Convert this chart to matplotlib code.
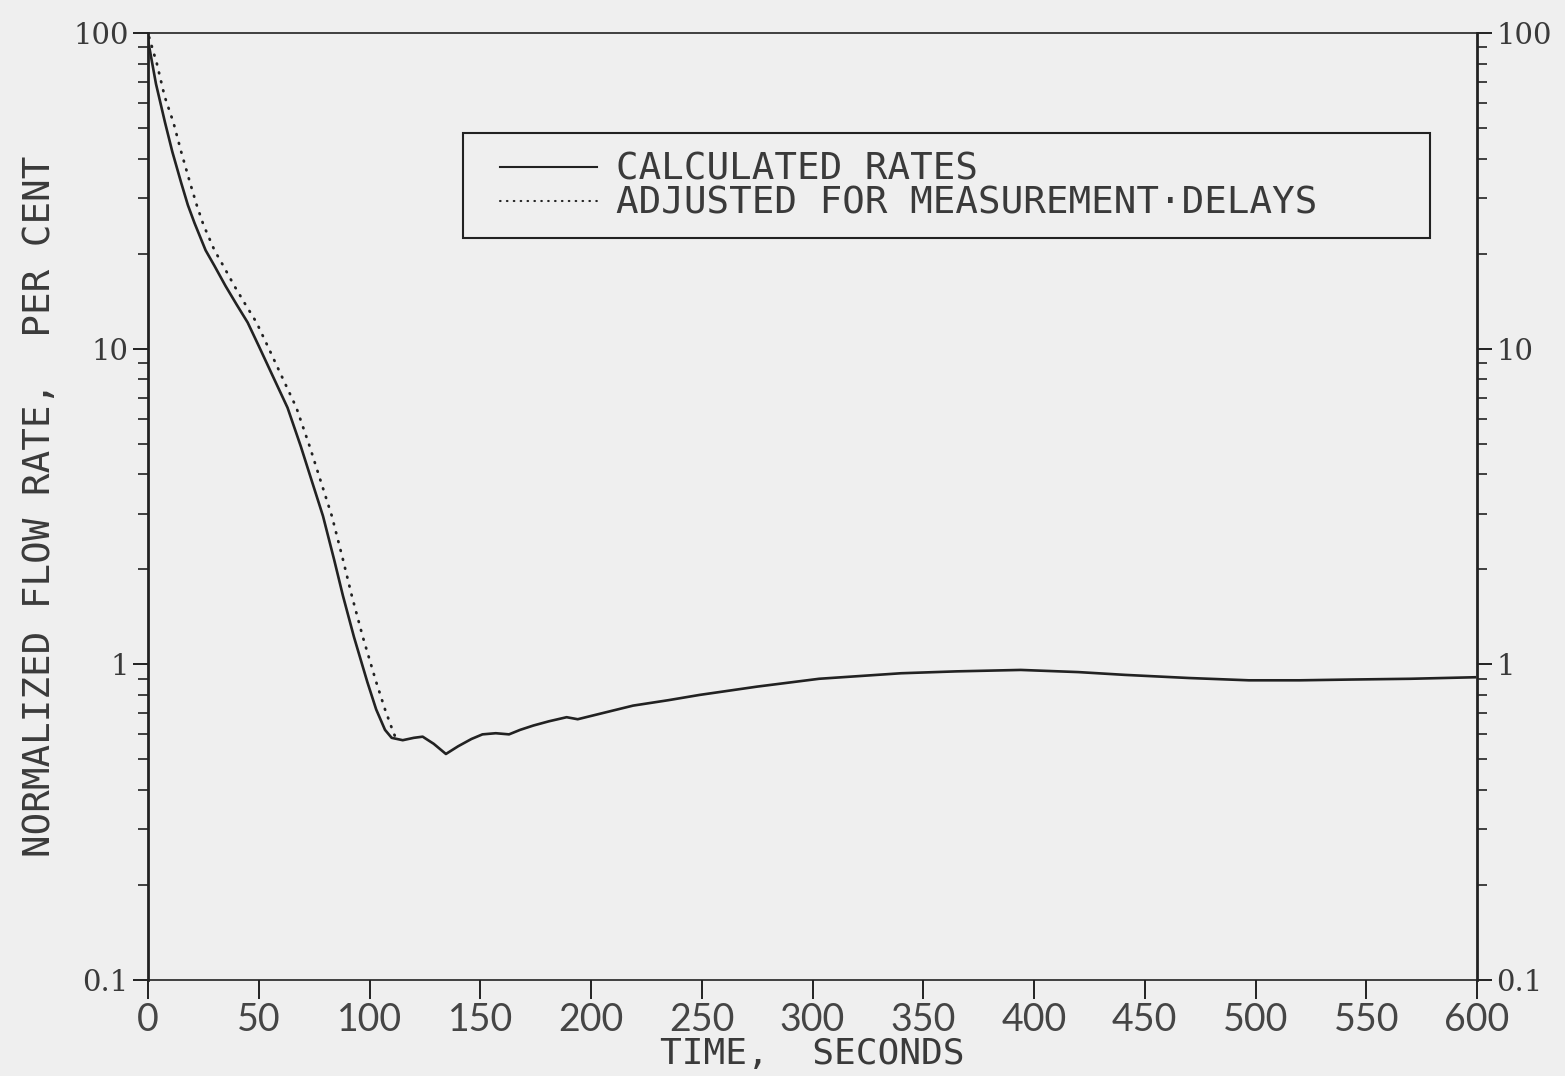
import matplotlib
matplotlib.use("Agg")
import matplotlib.pyplot as plt
from matplotlib.patches import Rectangle
from matplotlib.ticker import LogLocator, FixedLocator, NullFormatter

# ---- data ----
calc_t = [0, 3.6, 7.7, 11, 15, 18, 21, 26, 30, 35, 40, 45, 50, 57, 63, 69,
          74, 79, 84, 88, 93, 99, 103, 107, 110, 115, 120, 124, 129, 134.5,
          140, 146, 151, 157, 163, 168, 174, 181, 189, 194, 205, 219, 235,
          249, 275, 303, 340, 365, 394, 420, 441, 470, 497, 520, 543, 570,
          599]
calc_v = [95, 69, 52, 42, 33.5, 28.5, 25, 20.5, 18.3, 15.8, 13.8, 12.1, 10.2,
          8.0, 6.5, 4.9, 3.8, 2.95, 2.15, 1.65, 1.22, 0.88, 0.72, 0.62, 0.585,
          0.575, 0.585, 0.59, 0.56, 0.52, 0.55, 0.58, 0.60, 0.605, 0.60, 0.62,
          0.64, 0.66, 0.68, 0.67, 0.70, 0.74, 0.77, 0.80, 0.85, 0.90, 0.937,
          0.95, 0.96, 0.945, 0.926, 0.905, 0.89, 0.89, 0.895, 0.90, 0.91]

adj_t = [0.5, 4, 7.5, 11.5, 15, 19, 22, 25, 30, 34, 39, 44, 49, 54, 61, 67,
         73, 78, 83, 88, 92, 97, 103, 107, 110, 112]
adj_v = [97, 80, 63, 52, 42, 33.5, 28.5, 24.7, 20.5, 18.3, 15.8, 13.8, 12.1,
         10.2, 8.0, 6.5, 4.9, 3.8, 2.95, 2.15, 1.65, 1.22, 0.88, 0.72, 0.63,
         0.58]

x_ticks = [0, 50, 100, 150, 200, 250, 300, 350, 400, 450, 500, 550, 600]
x_tick_labels = ["0", "50", "100", "150", "200", "250", "300", "350", "400",
                 "450", "500", "550", "600"]
y_ticks = [0.1, 1, 10, 100]
y_tick_labels = ["0.1", "1", "10", "100"]

legend_labels = ["CALCULATED RATES", "ADJUSTED FOR MEASUREMENT\u00b7DELAYS"]
x_label = "TIME,  SECONDS"
y_label = "NORMALIZED FLOW RATE,  PER CENT"

# ---- styling ----
BG = "#efefef"
INK = "#222222"
TXT = "#3a3a3a"
MONO = ["DejaVu Sans Mono"]

fig = plt.figure(figsize=(15.65, 10.76), dpi=100, facecolor=BG)
ax = fig.add_axes([148 / 1565, 1 - 980 / 1076, 1329 / 1565, 947 / 1076])
ax.set_facecolor(BG)

ax.plot(calc_t, calc_v, color=INK, lw=1.9, solid_joinstyle="round",
        label=legend_labels[0])
ax.plot(adj_t, adj_v, color=INK, lw=2.0, linestyle=(0, (0.3, 3.0)),
        dash_capstyle="round", label=legend_labels[1])

ax.set_yscale("log")
ax.set_xlim(0, 600)
ax.set_ylim(0.1, 100)

ax.xaxis.set_major_locator(FixedLocator(x_ticks))
ax.set_xticklabels(x_tick_labels)
ax.yaxis.set_major_locator(FixedLocator(y_ticks))
ax.set_yticklabels(y_tick_labels)
ax.yaxis.set_minor_locator(LogLocator(base=10, subs=range(2, 10)))
ax.yaxis.set_minor_formatter(NullFormatter())

for side in ("left", "right"):
    ax.spines[side].set_linewidth(2.0)
    ax.spines[side].set_color(INK)
for side in ("top", "bottom"):
    ax.spines[side].set_linewidth(1.2)
    ax.spines[side].set_color(INK)

ax.tick_params(axis="y", which="both", direction="out", left=True,
               right=True, labelleft=True, labelright=True, color=INK)
ax.tick_params(axis="y", which="major", length=11, width=1.4, pad=3,
               labelsize=21, labelcolor=TXT)
ax.tick_params(axis="y", which="minor", length=7, width=1.2)
ax.tick_params(axis="x", which="major", direction="out", length=14,
               width=1.4, pad=2, labelsize=27, labelcolor="#454545",
               color=INK)
for lab in ax.get_yticklabels():
    lab.set_family(["DejaVu Serif"])
for lab in ax.get_xticklabels():
    lab.set_family(["Lato", "DejaVu Sans"])

ax.set_xlabel(x_label, family=MONO, fontsize=26, color=TXT, va="center")
ax.xaxis.set_label_coords(0.5, -0.078)
ax.set_ylabel(y_label, family=MONO, fontsize=27, color=TXT, va="center")
ax.yaxis.set_label_coords(-0.081, 0.5)

# legend box and entries
x0 = (463 - 148) / 1329
x1 = (1430 - 148) / 1329
y0 = (980 - 238) / 947
y1 = (980 - 133) / 947
ax.add_patch(Rectangle((x0, y0), x1 - x0, y1 - y0, transform=ax.transAxes,
                       fill=False, edgecolor=INK, lw=1.5, zorder=5))
leg = ax.legend(loc="upper left", bbox_to_anchor=(x0 + 0.022, y1 - 0.012),
                frameon=False, prop={"family": MONO, "size": 27},
                handlelength=2.6, handletextpad=0.5, labelspacing=-0.05,
                borderpad=0.2, borderaxespad=0)
for t in leg.get_texts():
    t.set_color(TXT)
for h in leg.get_lines():
    h.set_linewidth(1.5)

fig.savefig("out.png", dpi=100, facecolor=BG)
